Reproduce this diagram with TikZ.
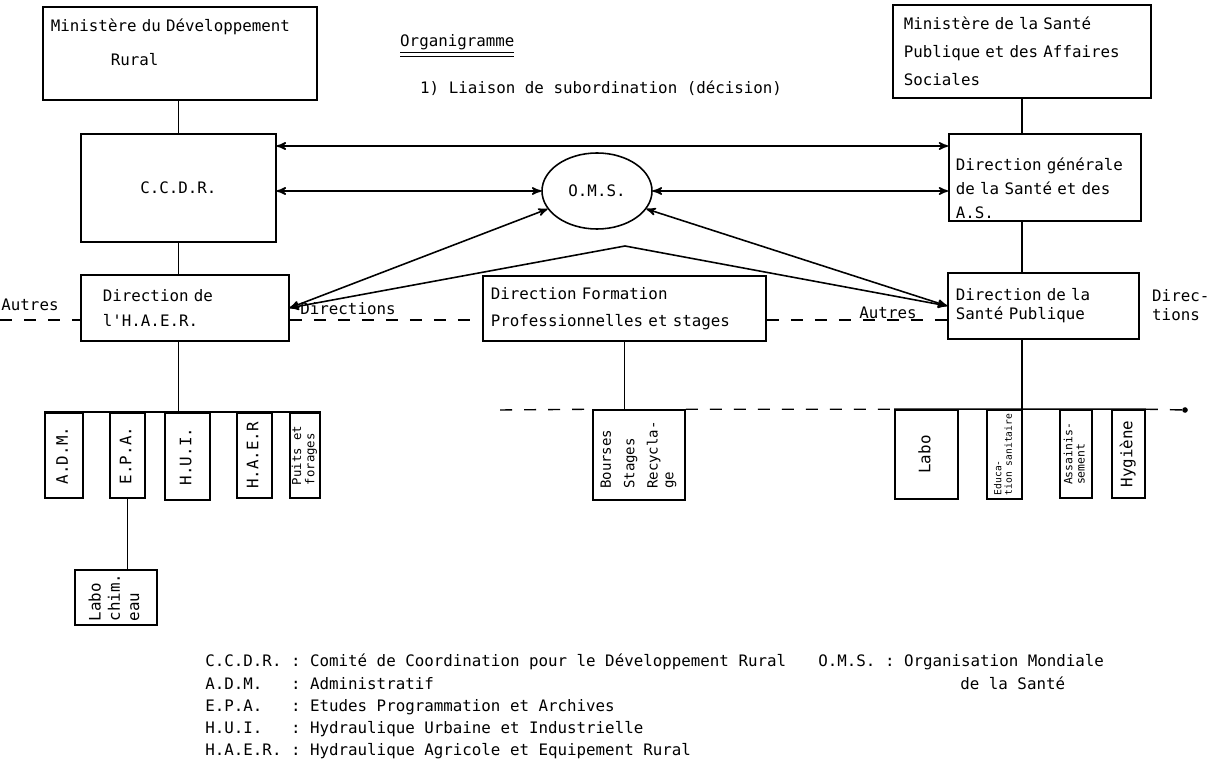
\documentclass[tikz,border=0pt]{standalone}
\usepackage{fontspec}
\setmonofont{DejaVu Sans Mono}
\usepackage{tikz}
\usetikzlibrary{shapes.geometric, arrows}

\renewcommand{\arraystretch}{1.15}
% text set on its side, read from bottom to top
\newcommand{\vlab}[1]{\rotatebox{90}{\renewcommand{\arraystretch}{1}\begin{tabular}{@{}l@{}}#1\end{tabular}}}

\begin{document}
\begin{tikzpicture}[
                x=0.2mm, y=-0.2mm, % one unit per pixel, y pointing down
                every node/.style={font=\ttfamily\fontsize{9}{11}\selectfont},
                box/.style={draw, line width=1pt, rectangle, anchor=north west, align=left, inner xsep=1.6mm, inner ysep=0pt}, % services
                vbox/.style={draw, line width=0.9pt, rectangle, inner sep=0pt}, % sub-services
                link/.style={<->, >=stealth', line width=0.9pt}, % liaisons
                other/.style={line width=0.8pt, dash pattern=on 2.4mm off 2.4mm} % autres directions
                ]
                \useasboundingbox (0,0) rectangle (1211,762);

                % ministeres and directions
                \node[box, text width=51.6mm, minimum height=18.6mm] (mdr) at (42,6)
                    {Ministère du Développement\\[2.9mm]\hspace*{12mm}Rural\rule[-4.5mm]{0pt}{0pt}};
                \node[box, align=center, text width=35.8mm, minimum height=21.6mm] (ccdr) at (80,133) {C.C.D.R.};
                \node[box, inner xsep=4.4mm, text width=32.8mm, minimum height=13.2mm] (haer) at (80,274)
                    {Direction de\\[1.1mm]l'H.A.E.R.};
                \node[box, inner xsep=2.2mm, text width=47.2mm, minimum height=18.6mm] (msp) at (892,4)
                    {Ministère de la Santé\\[1.7mm]Publique et des Affaires\\[1.7mm]Sociales};
                \node[box, inner xsep=1.4mm, text width=35.6mm, minimum height=17.4mm] (dg) at (948,133)
                    {\rule{0pt}{7mm}Direction générale\\[0.9mm]de la Santé et des\\[0.9mm]A.S.};
                \node[box, text width=53.4mm, minimum height=13mm] (dfp) at (482,275)
                    {Direction Formation\\[1.5mm]Professionnelles et stages};
                \node[box, text width=35mm, minimum height=13.2mm] (dsp) at (947,272)
                    {Direction de la\\Santé Publique};
                \node[draw, ellipse, line width=0.9pt, minimum width=22mm, minimum height=15.2mm] (oms) at (597,191) {O.M.S.};

                % sub-services
                \node[vbox, minimum width=7.6mm, minimum height=17mm] (adm) at (64,455.5) {\vlab{A.D.M.}};
                \node[vbox, minimum width=7mm, minimum height=17mm] (epa) at (127.5,455.5) {\vlab{E.P.A.}};
                \node[vbox, minimum width=9mm, minimum height=17.4mm] (hui) at (187.5,456.5) {\vlab{H.U.I.}};
                \node[vbox, minimum width=7mm, minimum height=17mm] (haerb) at (254.5,455.5) {\vlab{H.A.E.R}};
                \node[vbox, minimum width=6mm, minimum height=17mm, font=\ttfamily\fontsize{7}{7.5}\selectfont] (puits) at (305,455.5)
                    {\vlab{Puits et\\forages}};
                \node[vbox, minimum width=16.4mm, minimum height=11mm] (labochim) at (116,597.5) {\vlab{Labo\\chim.\\eau}};
                \node[vbox, minimum width=18.4mm, minimum height=18mm, font=\ttfamily\fontsize{8}{9}\selectfont] (bourses) at (639,455)
                    {\vlab{Bourses\\[1.5mm]Stages\\[1.5mm]Recycla-\\ge}};
                \node[vbox, minimum width=12.6mm, minimum height=17.8mm] (labo) at (926.5,454.5) {\vlab{Labo}};
                \node[vbox, minimum width=7mm, minimum height=17.8mm, font=\ttfamily\fontsize{5.5}{6}\selectfont] (educ) at (1004.5,454.5)
                    {\vlab{Educa-\\tion sanitaire}};
                \node[vbox, minimum width=6.4mm, minimum height=17.6mm, font=\ttfamily\fontsize{6.5}{7}\selectfont] (assain) at (1076,454)
                    {\vlab{Assainis-\\sement}};
                \node[vbox, minimum width=6.6mm, minimum height=17.6mm] (hygiene) at (1128.5,454) {\vlab{Hygiène}};

                % free ends
                \coordinate (lother) at (0,320);
                \coordinate (apex) at (625,246);
                \coordinate (mbus) at (500,410);
                \coordinate (rbus) at (1185,410);

                % hierarchy
                \draw[line width=0.9pt] (ccdr.north |- mdr.south) -- (ccdr.north);
                \draw[line width=0.9pt] (ccdr.south) -- (ccdr.south |- haer.north);
                \draw[line width=0.9pt] (ccdr.south |- haer.south) -- (ccdr.south |- adm.north);
                \draw[line width=0.9pt] (adm.north west) -- (puits.north east);
                \draw[line width=0.9pt] (epa.south) -- (epa.south |- labochim.north);
                \draw[line width=0.9pt] (dfp.south) -- (dfp.south |- bourses.north);
                \draw[line width=0.9pt] (msp.south) -- (msp.south |- dg.north);
                \draw[line width=0.9pt] (msp.south |- dg.south) -- (msp.south |- dsp.north);
                \draw[line width=0.9pt] (msp.south |- dsp.south) -- (msp.south |- labo.north);
                \draw[line width=0.9pt] (labo.north west) -- (hygiene.north east);
                \draw[other] (mbus) -- (bourses.north west);
                \draw[other] (bourses.north east) -- (labo.north west);
                \draw[other] (hygiene.north east) -- (rbus);
                \fill (rbus) circle (1.6pt);

                % autres directions
                \draw[other] (lother) -- (haer.west |- lother);
                \draw[other] (haer.east |- lother) -- (dfp.west |- lother);
                \draw[other] (dfp.east |- lother) -- (dsp.west |- lother);
                \node (autresg) at (30,305) {Autres};
                \node (dirg) at (348,309) {Directions};
                \node (autresd) at (888,313) {Autres};
                \node[anchor=west, align=left] (dird) at (1146,305) {Direc-\\tions};

                % liaisons
                \draw[link] ([yshift=-2.6mm]ccdr.north east) -- ([yshift=-2.6mm]ccdr.north east -| dg.west);
                \draw[link] (oms.west -| ccdr.east) -- (oms.west);
                \draw[link] (oms.east) -- (oms.east -| dg.west);
                \draw[link] (oms.200) -- (haer.east);
                \draw[link] (oms.340) -- (dsp.west);
                \draw[link] (haer.east) -- (apex) -- (dsp.west);

                % titles
                \node[anchor=west] (titre) at (394,46) {\underline{\underline{Organigramme}}};
                \node[anchor=west] (liaison) at (414,88) {1) Liaison de subordination (décision)};

                % sigles
                \node[anchor=north west, inner sep=0pt] (sigles) at (205,651) {\begin{tabular}{@{}l@{ }l@{}}
                    C.C.D.R. & : Comité de Coordination pour le Développement Rural\\
                    A.D.M.   & : Administratif\\
                    E.P.A.   & : Etudes Programmation et Archives\\
                    H.U.I.   & : Hydraulique Urbaine et Industrielle\\
                    H.A.E.R. & : Hydraulique Agricole et Equipement Rural
                    \end{tabular}};
                \node[anchor=north west, inner sep=0pt] (sigleoms) at (818,651) {\begin{tabular}{@{}l@{}}
                    O.M.S. : Organisation Mondiale\\
                    \hspace*{28.4mm}de la Santé
                    \end{tabular}};
            \end{tikzpicture}
\end{document}
